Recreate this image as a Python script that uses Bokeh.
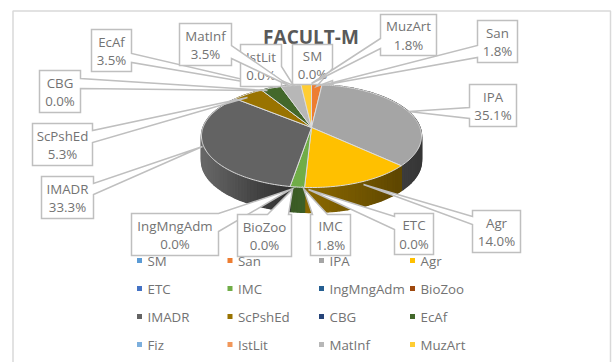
import numpy as np
from bokeh.plotting import figure
from bokeh.models import ColumnDataSource
from bokeh.core.properties import value
from bokeh.embed import file_html
from bokeh.resources import INLINE

title = "FACULT-M"
categories = ["SM", "San", "IPA", "Agr", "ETC", "IMC", "IngMngAdm", "BioZoo",
              "IMADR", "ScPshEd", "CBG", "EcAf", "Fiz", "IstLit", "MatInf", "MuzArt"]
shares = [0.0, 1.8, 35.1, 14.0, 0.0, 1.8, 0.0, 0.0,
          33.3, 5.3, 0.0, 3.5, 0.0, 0.0, 3.5, 1.8]
colors = ["#5b9bd5", "#ed7d31", "#a5a5a5", "#ffc000", "#4472c4", "#70ad47", "#255e91", "#9e480e",
          "#636363", "#997300", "#264478", "#43682b", "#7cafdd", "#f1975a", "#b7b7b7", "#ffcd33"]

# Callout layout: box (x0, y0, x1, y1), pointer base a, b and tip, in page pixels
callouts = {
    "SM": ((292, 44, 332, 84), (332, 68), (332, 80), (316, 86)),
    "San": ((477, 20, 517, 62), (477, 45), (477, 57), (321, 85)),
    "IPA": ((469, 84, 516, 126), (469, 107), (469, 118), (408, 111)),
    "Agr": ((472, 210, 520, 252), (472, 216), (472, 224), (363, 184)),
    "ETC": ((394, 213, 433, 254), (394, 216), (394, 229), (308, 189)),
    "IMC": ((310, 214, 350, 255), (312, 214), (327, 214), (303, 188)),
    "IngMngAdm": ((131, 213, 218, 255), (218, 213), (218, 231), (290, 189)),
    "BioZoo": ((237, 214, 291, 256), (267, 214), (288, 214), (292, 189)),
    "IMADR": ((41, 176, 93, 218), (93, 183), (93, 194), (202, 146)),
    "ScPshEd": ((32, 123, 92, 165), (92, 130), (92, 142), (247, 97)),
    "CBG": ((39, 70, 80, 112), (80, 78), (80, 88), (267, 90)),
    "EcAf": ((91, 29, 131, 71), (131, 53), (131, 62), (277, 87)),
    "IstLit": ((240, 44, 281, 86), (281, 66), (281, 80), (293, 85)),
    "MatInf": ((179, 23, 231, 65), (231, 45), (231, 58), (290, 86)),
    "MuzArt": ((380, 14, 436, 55), (380, 38), (380, 48), (311, 83)),
}

W, H = 616, 362
p = figure(width=W, height=H, x_range=(0, W), y_range=(H, 0),
           output_backend="svg", toolbar_location=None, min_border=0,
           background_fill_color="white", border_fill_color="white")
p.axis.visible = False
p.grid.visible = False
p.outline_line_color = None

FONT = value("Open Sans")
TEXT = "#737373"
LEAD = "#bfbfbf"

# chart frame
p.multi_line(xs=[[12.5, 12.5, 610, 610]], ys=[[400, 10.5, 10.5, 400]],
             line_color="#d9d9d9", line_width=1.5)

# pie in perspective: unit circle -> page through a projective map
CX, CY, A, B, K, DEPTH = 311, 127, 108.5, 50.1, 0.165, 25


def rim(theta):
    X, Y = np.sin(theta), np.cos(theta)
    w = 1 + K * Y
    return CX + A * X / w, CY - B * Y / w


edges = 2 * np.pi * np.concatenate([[0], np.cumsum(shares)]) / sum(shares)
shade_x = [202, 250, 285, 305, 400, 420]
shade_k = [1.05, 0.72, 0.52, 0.55, 0.37, 0.33]


def rgb(hexa, f):
    c = [int(hexa[i:i + 2], 16) for i in (1, 3, 5)]
    return "#%02x%02x%02x" % tuple(int(min(255, v * f)) for v in c)


wx, wy, wc = [], [], []
for i, col in enumerate(colors):
    if shares[i] == 0:
        continue
    t = np.linspace(edges[i], edges[i + 1], max(2, int(shares[i] * 2) + 2))
    for a, b in zip(t[:-1], t[1:]):
        xa, ya = rim(a)
        xb, yb = rim(b)
        wx.append([xa, xb, xb, xa])
        wy.append([ya, yb, yb + DEPTH, ya + DEPTH])
        wc.append(rgb(col, np.interp((xa + xb) / 2, shade_x, shade_k)))
p.patches(xs="x", ys="y", source=ColumnDataSource(dict(x=wx, y=wy, c=wc)),
          fill_color="c", line_color="c", line_width=1.4)

for i, col in enumerate(colors):
    if shares[i] == 0:
        continue
    t = np.linspace(edges[i], edges[i + 1], max(3, int(shares[i] * 3) + 3))
    xs, ys = rim(t)
    p.patch(np.r_[CX, xs], np.r_[CY, ys], fill_color=col,
            line_color="#dcdcdc", line_width=1)

# title
p.text(x=[310.5], y=[36.5], text=[title], text_font=FONT, text_font_size="19px",
       text_font_style="bold", text_color="#595959", text_align="center",
       text_baseline="middle")

# legend
col_x = [139, 229.5, 321, 412]
row_y = [260, 288, 316, 344]
for n, (cat, col) in enumerate(zip(categories, colors)):
    lx, ly = col_x[n % 4], row_y[n // 4]
    p.rect(x=[lx], y=[ly], width=5, height=5, fill_color=col, line_color=None)
    p.text(x=[lx + 8], y=[ly], text=[cat], text_font=FONT, text_font_size="13.3px",
           text_color=TEXT, text_align="left", text_baseline="middle")


def perim(pt, box):
    x0, y0, x1, y1 = box
    w, h = x1 - x0, y1 - y0
    if pt[1] == y0:
        return pt[0] - x0
    if pt[0] == x1:
        return w + pt[1] - y0
    if pt[1] == y1:
        return w + h + x1 - pt[0]
    return 2 * w + h + y1 - pt[1]


# callouts in series order
for cat, share in zip(categories, shares):
    if cat not in callouts:
        continue
    box, a, b, tip = callouts[cat]
    x0, y0, x1, y1 = box
    w, h = x1 - x0, y1 - y0
    if perim(a, box) > perim(b, box):
        a, b = b, a
    corners = [((x0, y0), 0), ((x1, y0), w), ((x1, y1), w + h), ((x0, y1), 2 * w + h)]
    pts = [c for c, q in corners if q < perim(a, box)] + [a, tip, b] + \
          [c for c, q in corners if q > perim(b, box)]
    p.patch([q[0] for q in pts], [q[1] for q in pts], fill_color="white",
            line_color=LEAD, line_width=1.5, line_join="miter")
    mx, my = (x0 + x1) / 2, (y0 + y1) / 2
    p.text(x=[mx, mx], y=[my - 9, my + 9.5], text=[cat, f"{share:.1f}%"], text_font=FONT,
           text_font_size="13.3px", text_color=TEXT, text_align="center",
           text_baseline="middle")

open("out.html", "w").write(file_html(p, INLINE))
